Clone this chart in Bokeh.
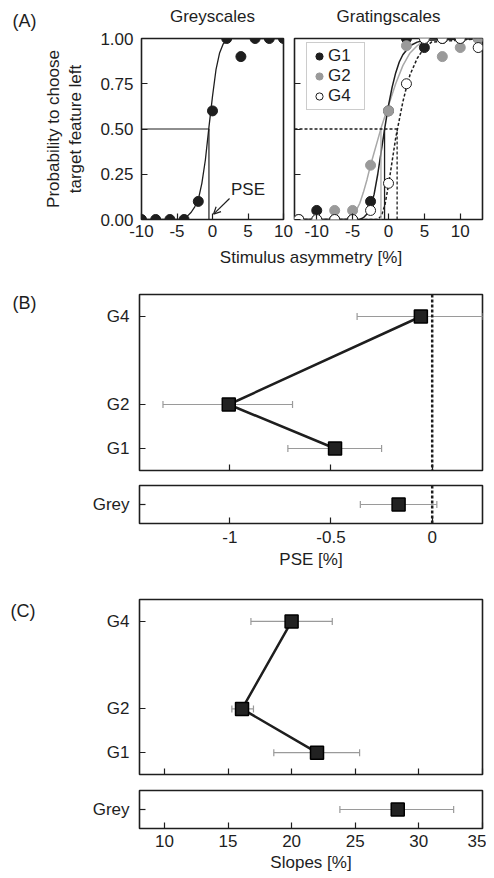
import numpy as np
from bokeh.plotting import figure
from bokeh.layouts import column, row
from bokeh.models import (Range1d, FixedTicker, Label, Legend, LegendItem, Span,
                          Arrow, OpenHead, NumeralTickFormatter, LinearAxis)
from bokeh.embed import file_html
from bokeh.resources import INLINE

FONT = "Liberation Sans"
INK = "#1e1e1e"

# ---------------- Panel A: psychometric data (example observer) ----------------
grey_x = [-10, -8, -6, -4, -2, 0, 2, 4, 6, 8, 10]
grey_p = [0, 0, 0, 0, 0.10, 0.60, 1.0, 0.90, 1.0, 1.0, 1.0]
grey_fit_x = [-10, -4.5, -4, -3.5, -3, -2.5, -2, -1.5, -1, -0.5, 0, 0.5, 1, 1.5, 2, 2.5, 10]
grey_fit_y = [0, 0, 0.01, 0.02, 0.04, 0.07, 0.11, 0.20, 0.33, 0.51, 0.68, 0.83, 0.92, 0.97, 0.99, 1.0, 1.0]
grey_pse_example = -0.5

grat_x = [-12.5, -10, -7.5, -5, -2.5, 0, 2.5, 5, 7.5, 10, 12.5]
g1_p = [0, 0.05, 0, 0, 0.10, 0.60, 1.0, 0.95, 1.0, 1.0, 1.0]
g2_p = [0, 0, 0.05, 0.05, 0.30, 0.60, 0.96, 1.0, 0.90, 0.95, 1.0]
g4_p = [0, 0, 0, 0, 0.05, 0.20, 0.75, 1.0, 1.0, 1.0, 0.95]

g1_fit_x = [-13.1, -4, -3.5, -3, -2.5, -2, -1.5, -1, -0.5, 0, 0.5, 1, 1.5, 2, 3, 4, 5, 13.1]
g1_fit_y = [0, 0, 0.01, 0.03, 0.07, 0.14, 0.25, 0.38, 0.51, 0.63, 0.73, 0.81, 0.87, 0.91, 0.96, 0.98, 0.99, 1.0]
g2_fit_x = [-13.1, -6, -5, -4.5, -4, -3.5, -3, -2.5, -2, -1.5, -1, -0.5, 0, 1, 2, 3, 4, 5, 13.1]
g2_fit_y = [0, 0, 0.02, 0.05, 0.09, 0.15, 0.22, 0.30, 0.37, 0.44, 0.51, 0.57, 0.63, 0.75, 0.85, 0.92, 0.96, 0.99, 1.0]
g4_fit_x = [-13.1, -1.5, -1, -0.5, 0, 0.5, 1, 1.5, 2, 2.5, 3, 4, 5, 6, 13.1]
g4_fit_y = [0, 0, 0.02, 0.08, 0.19, 0.32, 0.45, 0.55, 0.65, 0.73, 0.80, 0.89, 0.95, 0.98, 1.0]
grat_pse_example = [-0.55, -1.05, 1.2]   # G1, G2, G4

asym_ticks = [-10, -5, 0, 5, 10]
asym_tick_labels = ["-10", "-5", "0", "5", "10"]
prob_ticks = [0, 0.25, 0.5, 0.75, 1]

# ---------------- Panel B: PSE ----------------
grating = [1, 2, 4]
grating_labels = ["G1", "G2", "G4"]
pse_mean = [-0.48, -1.005, -0.056]
pse_lo = [-0.713, -1.33, -0.371]
pse_hi = [-0.25, -0.69, 0.25]
grey_cat = ["Grey"]
grey_pse_mean = [-0.166]
grey_pse_lo = [-0.355]
grey_pse_hi = [0.023]

# ---------------- Panel C: slopes ----------------
slope_mean = [22.0, 16.1, 20.0]
slope_lo = [18.6, 15.3, 16.8]
slope_hi = [25.35, 17.0, 23.2]
grey_slope_mean = [28.35]
grey_slope_lo = [23.8]
grey_slope_hi = [32.75]

pse_ticks = [-1, -0.5, 0]
pse_tick_labels = ["-1", "-0.5", "0"]
slope_ticks = [10, 15, 20, 25, 30, 35]
panel_letters = ["(A)", "(B)", "(C)"]


def mkfig(w, h, xr, yr, bl, br, bt, bb):
    p = figure(width=w, height=h, x_range=xr, y_range=yr, output_backend="svg",
               toolbar_location=None, min_border_left=bl, min_border_right=br,
               min_border_top=bt, min_border_bottom=bb)
    p.outline_line_color = INK
    p.outline_line_width = 1.6
    p.background_fill_color = "white"
    p.border_fill_color = "white"
    p.xgrid.grid_line_color = None
    p.ygrid.grid_line_color = None
    for ax in p.axis:
        ax.axis_line_color = None
        ax.major_tick_in = 6
        ax.major_tick_out = 0
        ax.minor_tick_line_color = None
        ax.major_tick_line_color = INK
        ax.major_tick_line_width = 1.2
        ax.major_label_text_font = FONT
        ax.major_label_text_font_size = "17px"
        ax.major_label_text_color = INK
        ax.axis_label_text_font = FONT
        ax.axis_label_text_font_size = "17px"
        ax.axis_label_text_font_style = "normal"
        ax.axis_label_text_color = INK
    return p


def hide_labels(ax):
    ax.major_label_text_font_size = "0px"
    ax.major_label_text_color = None
    ax.major_label_standoff = 0


def title_axis(p, text, standoff):
    ax = LinearAxis(ticker=FixedTicker(ticks=[]), axis_label=text,
                    axis_label_standoff=standoff, axis_label_text_font=FONT,
                    axis_label_text_font_size="17px", axis_label_text_font_style="normal",
                    axis_label_text_color=INK, axis_line_color=None,
                    major_tick_line_color=None, minor_tick_line_color=None,
                    major_label_text_font_size="0px", major_label_text_color=None,
                    major_label_standoff=0, major_tick_in=0, major_tick_out=0)
    p.add_layout(ax, "above")


def error_bars(p, lo, hi, ys):
    p.segment(x0=lo, y0=ys, x1=hi, y1=ys, line_color="#9a9a9a", line_width=1.2)
    for ends in (lo, hi):
        p.scatter(x=ends, y=ys, marker="dash", angle=np.pi / 2, size=7,
                  line_color="#9a9a9a", line_width=1.2)


def square_points(p, xs, ys):
    p.scatter(xs, ys, marker="square", size=13, fill_color="#222222",
              line_color="black", line_width=1.5)


# ---------------- panel-letter strip ----------------
strip = figure(width=40, height=876, x_range=Range1d(0, 40), y_range=Range1d(876, 0),
               x_axis_location=None, y_axis_location=None, output_backend="svg",
               toolbar_location=None, min_border=0)
strip.outline_line_color = None
strip.grid.visible = False
for letter, (lx, ly) in zip(panel_letters, [(12, 20), (12, 302), (10, 610)]):
    strip.add_layout(Label(x=lx, y=ly, text=letter, text_font=FONT, text_font_size="18px",
                           text_color=INK, text_align="left", text_baseline="middle"))

# ---------------- Panel A left: Greyscales ----------------
xA1 = Range1d(-10, 10)
pA1 = mkfig(253, 244, xA1, Range1d(0, 1), 99, 10, 38, 25)
pA1.yaxis.ticker = FixedTicker(ticks=prob_ticks)
pA1.yaxis.formatter = NumeralTickFormatter(format="0.00")
pA1.yaxis.axis_label = "Probability to choose\ntarget feature left"
pA1.yaxis.major_label_standoff = 8
pA1.yaxis.axis_label_standoff = 12
pA1.xaxis.ticker = FixedTicker(ticks=asym_ticks)
pA1.xaxis.major_label_overrides = dict(zip(asym_ticks, asym_tick_labels))
pA1.xaxis.major_label_standoff = 5
title_axis(pA1, "Greyscales", 13)
pA1.line(grey_fit_x, grey_fit_y, line_color=INK, line_width=1.3)
pA1.line([xA1.start, grey_pse_example, grey_pse_example], [0.5, 0.5, 0],
         line_color=INK, line_width=1.2)
pA1.scatter(grey_x, grey_p, size=10, fill_color=INK, line_color=INK)
pA1.add_layout(Label(x=2.6, y=0.167, text="PSE", text_font=FONT, text_font_size="17px",
                     text_color=INK, text_align="left", text_baseline="middle"))
pA1.add_layout(Arrow(end=OpenHead(size=7, line_width=1.2, line_color=INK),
                     x_start=2.4, y_start=0.116, x_end=0.15, y_end=0.03,
                     line_color=INK, line_width=1.2))

# ---------------- Panel A right: Gratingscales ----------------
xA2 = Range1d(-13.1, 13.1)
pA2 = mkfig(193, 244, xA2, Range1d(0, 1), 1, 4, 38, 25)
pA2.yaxis.ticker = FixedTicker(ticks=prob_ticks)
hide_labels(pA2.yaxis[0])
pA2.xaxis.ticker = FixedTicker(ticks=asym_ticks)
pA2.xaxis.major_label_overrides = dict(zip(asym_ticks, asym_tick_labels))
pA2.xaxis.major_label_standoff = 5
title_axis(pA2, "Gratingscales", 13)
pA2.line(g2_fit_x, g2_fit_y, line_color="#a8a8a8", line_width=1.5)
pA2.line(g1_fit_x, g1_fit_y, line_color=INK, line_width=1.5)
pA2.line(g4_fit_x, g4_fit_y, line_color=INK, line_width=1.5, line_dash="3 2")
pA2.line([grat_pse_example[1]] * 2, [0, 0.5], line_color="#a8a8a8", line_width=1.3)
pA2.line([grat_pse_example[0]] * 2, [0, 0.5], line_color=INK, line_width=1.3)
pA2.line([xA2.start, grat_pse_example[2], grat_pse_example[2]], [0.5, 0.5, 0],
         line_color=INK, line_width=1.3, line_dash="3 2")
r1 = pA2.scatter(grat_x, g1_p, size=10, fill_color=INK, line_color=INK)
r2 = pA2.scatter(grat_x, g2_p, size=10, fill_color="#9a9a9a", line_color="#9a9a9a")
r4 = pA2.scatter(grat_x, g4_p, size=10, fill_color="white", line_color=INK, line_width=1)
legend = Legend(items=[LegendItem(label="G1", renderers=[r1]),
                       LegendItem(label="G2", renderers=[r2]),
                       LegendItem(label="G4", renderers=[r4])],
                location=(12, 109), margin=0, padding=3, spacing=0,
                glyph_width=18, glyph_height=20, label_height=20, label_width=33,
                label_standoff=0, label_text_font=FONT, label_text_font_size="17px",
                label_text_color=INK, border_line_color="#9a9a9a", border_line_width=1.5,
                background_fill_color="white", background_fill_alpha=1)
pA2.add_layout(legend)

# ---------------- Panel B: PSE ----------------
xB = Range1d(-1.446, 0.2485)
pB1 = mkfig(446, 234, xB, Range1d(0.5, 4.5), 99, 4, 50, 8)
pB1.yaxis.ticker = FixedTicker(ticks=grating)
pB1.yaxis.major_label_overrides = dict(zip(grating, grating_labels))
pB1.yaxis.major_label_standoff = 10
pB1.xaxis.ticker = FixedTicker(ticks=pse_ticks)
hide_labels(pB1.xaxis[0])
title_axis(pB1, "Stimulus asymmetry [%]", 28)
pB1.add_layout(Span(location=0, dimension="height", line_color=INK, line_width=2.5,
                    line_dash="3 2"))
error_bars(pB1, pse_lo, pse_hi, grating)
pB1.line(pse_mean, grating, line_color=INK, line_width=2.5)
square_points(pB1, pse_mean, grating)

pB2 = mkfig(446, 97, xB, grey_cat, 99, 4, 7, 52)
pB2.yaxis.major_label_standoff = 10
pB2.xaxis.ticker = FixedTicker(ticks=pse_ticks)
pB2.xaxis.major_label_overrides = dict(zip(pse_ticks, pse_tick_labels))
pB2.xaxis.major_label_standoff = 7
pB2.xaxis.axis_label = "PSE [%]"
pB2.xaxis.axis_label_standoff = 4
pB2.add_layout(Span(location=0, dimension="height", line_color=INK, line_width=2.5,
                    line_dash="3 2"))
error_bars(pB2, grey_pse_lo, grey_pse_hi, grey_cat)
square_points(pB2, grey_pse_mean, grey_cat)

# ---------------- Panel C: slopes ----------------
xC = Range1d(8.033, 35.02)
pC1 = mkfig(446, 207, xC, Range1d(0.5, 4.5), 99, 4, 24, 8)
pC1.yaxis.ticker = FixedTicker(ticks=grating)
pC1.yaxis.major_label_overrides = dict(zip(grating, grating_labels))
pC1.yaxis.major_label_standoff = 10
pC1.xaxis.ticker = FixedTicker(ticks=slope_ticks)
hide_labels(pC1.xaxis[0])
error_bars(pC1, slope_lo, slope_hi, grating)
pC1.line(slope_mean, grating, line_color=INK, line_width=2.5)
square_points(pC1, slope_mean, grating)

pC2 = mkfig(446, 94, xC, grey_cat, 99, 4, 8, 48)
pC2.yaxis.major_label_standoff = 10
pC2.xaxis.ticker = FixedTicker(ticks=slope_ticks)
pC2.xaxis.major_label_standoff = 6
pC2.xaxis.axis_label = "Slopes [%]"
pC2.xaxis.axis_label_standoff = 3
error_bars(pC2, grey_slope_lo, grey_slope_hi, grey_cat)
square_points(pC2, grey_slope_mean, grey_cat)

layout = row(strip, column(row(pA1, pA2), pB1, pB2, pC1, pC2))
open("out.html", "w").write(file_html(layout, INLINE))
